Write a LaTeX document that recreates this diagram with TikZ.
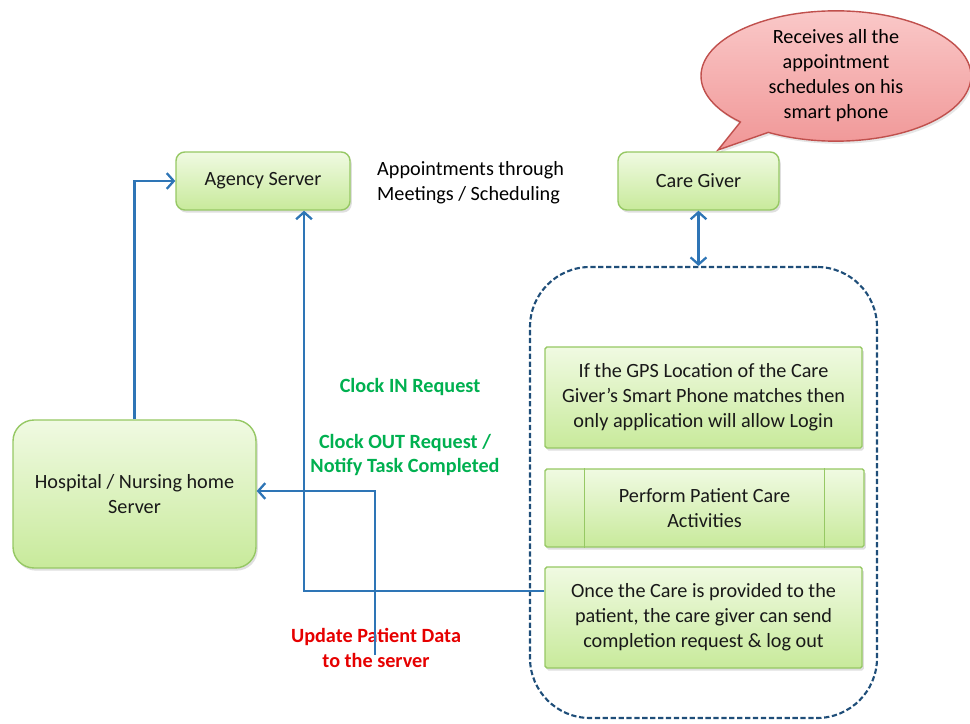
\documentclass[tikz,border=0pt]{standalone}
\usepackage{fontspec}
\setmainfont{Carlito}
\definecolor{boxTop}{RGB}{240, 250, 226}
\definecolor{boxBottom}{RGB}{200, 234, 155}
\definecolor{boxBorder}{RGB}{150, 200, 100}
\definecolor{linkBlue}{RGB}{46, 117, 182}
\definecolor{frameBlue}{RGB}{31, 78, 121}
\definecolor{clockGreen}{RGB}{0, 176, 80}
\definecolor{updateRed}{RGB}{230, 0, 0}
\definecolor{bubbleTop}{RGB}{250, 200, 200}
\definecolor{bubbleBottom}{RGB}{240, 150, 150}
\definecolor{bubbleBorder}{RGB}{192, 80, 77}
\usetikzlibrary{shapes,shapes.callouts,arrows.meta,positioning,calc,shadows}

\begin{document}
\begin{tikzpicture}[
                box/.style={rounded corners=5pt,top color=boxTop,bottom color=boxBottom,draw=boxBorder,
                            line width=0.8pt,font=\fontsize{11.5}{14.2}\selectfont,align=center,
                            text=black!90,drop shadow={opacity=0.25,shadow xshift=1pt,shadow yshift=-1.5pt},
                            inner sep=2pt},
                stepbox/.style={box,rounded corners=1pt},
                link/.style={draw=linkBlue,line width=1.3pt,-{Straight Barb[length=4pt,width=9pt,line width=1.3pt]}},
                greenlabel/.style={font=\bfseries\fontsize{11.5}{14.2}\selectfont,text=clockGreen,align=center},
                redlabel/.style={font=\bfseries\fontsize{11.5}{14.2}\selectfont,text=updateRed,align=center}
            ]
                \useasboundingbox (0,0) rectangle (19.4,14.46);
                \node[box,minimum width=3.48cm,minimum height=1.16cm] (agency) at (5.26,10.84) {Agency Server};
                \node[box,minimum width=3.22cm,minimum height=1.16cm] (care) at (13.97,10.84) {Care Giver};
                \node[box,rounded corners=12pt,minimum width=4.86cm,minimum height=2.96cm] (hosp) at (2.69,4.58)
                    {Hospital / Nursing home\\Server};
                \node[ellipse callout,callout absolute pointer={(14.36,11.46)},top color=bubbleTop,bottom color=bubbleBottom,
                      draw=bubbleBorder,line width=0.8pt,minimum width=5.4cm,minimum height=2.46cm,inner sep=0pt,
                      align=center,font=\fontsize{11.5}{14.2}\selectfont,
                      drop shadow={opacity=0.2,shadow xshift=1pt,shadow yshift=-1.5pt}] (bubble) at (16.72,12.94)
                    {Receives all the\\appointment\\schedules on his\\smart phone};
                \node[anchor=west,align=left,font=\fontsize{11.5}{14.2}\selectfont] (appt) at (7.42,10.8)
                    {Appointments through\\Meetings / Scheduling};

                % care giver's phone flow
                \node[draw=frameBlue,dashed,dash pattern=on 3pt off 1.5pt,line width=1.2pt,rounded corners=1.2cm,
                      minimum width=6.94cm,minimum height=9.02cm] (cont) at (14.07,4.61) {};
                \node[stepbox,minimum width=6.34cm,minimum height=2.02cm] (gps) at (14.07,6.51)
                    {If the GPS Location of the Care\\Giver's Smart Phone matches then\\only application will allow Login};
                \node[stepbox,minimum width=6.38cm,minimum height=1.56cm] (perf) at (14.09,4.30)
                    {Perform Patient Care\\Activities};
                \draw[boxBorder,line width=0.8pt] ($(perf.north west)+(0.8,0)$) -- ($(perf.south west)+(0.8,0)$);
                \draw[boxBorder,line width=0.8pt] ($(perf.north east)+(-0.8,0)$) -- ($(perf.south east)+(-0.8,0)$);
                \node[stepbox,minimum width=6.34cm,minimum height=2.02cm] (once) at (14.07,2.11)
                    {Once the Care is provided to the\\patient, the care giver can send\\completion request \& log out};

                \node[greenlabel] (clockin) at (8.20,6.72) {Clock IN Request};
                \node[greenlabel] (clockout) at (8.10,5.36) {Clock OUT Request /\\Notify Task Completed};
                \node[redlabel] (update) at (7.52,1.50) {Update Patient Data\\to the server};

                \coordinate (updStart) at (7.50,1.36);
                \coordinate (inTop) at ($(agency.south)+(0.82,0)$);
                \draw[link] (hosp.north) |- (agency.west);
                \draw[link] ($(once.west)+(0,0.53)$) -| (inTop);
                \draw[link] (updStart) |- ($(hosp.east)+(0,0.06)$);
                \draw[link,{Straight Barb[length=4pt,width=9pt,line width=1.3pt]}-{Straight Barb[length=4pt,width=9pt,line width=1.3pt]}]
                    (care.south) -- (care.south |- cont.north);
            \end{tikzpicture}
\end{document}
